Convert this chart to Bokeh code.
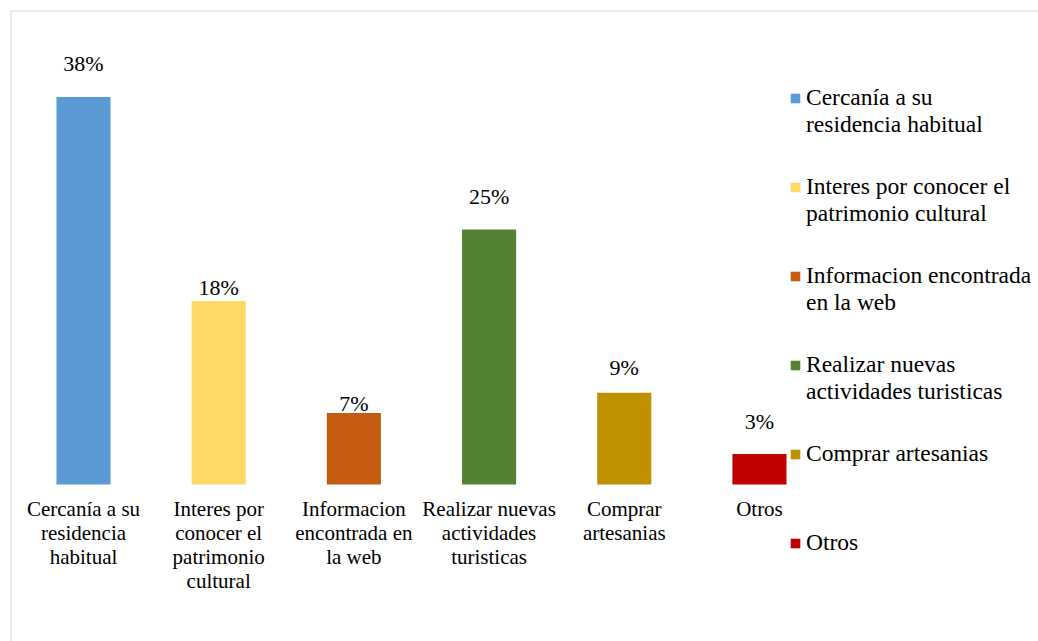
from bokeh.plotting import figure
from bokeh.models import ColumnDataSource, Range1d, Legend, LegendItem, Span
from bokeh.core.properties import value
from bokeh.embed import file_html
from bokeh.resources import INLINE

categories = [
    "Cercanía a su\nresidencia\nhabitual",
    "Interes por\nconocer el\npatrimonio\ncultural",
    "Informacion\nencontrada en\nla web",
    "Realizar nuevas\nactividades\nturisticas",
    "Comprar\nartesanias",
    "Otros",
]
legend_first = [
    "Cercanía a su",
    "Interes por conocer el",
    "Informacion encontrada",
    "Realizar nuevas",
    "Comprar artesanias",
    "Otros",
]
legend_second = [
    "residencia habitual",
    "patrimonio cultural",
    "en la web",
    "actividades turisticas",
]
values = [38, 18, 7, 25, 9, 3]
value_labels = ["38%", "18%", "7%", "25%", "9%", "3%"]
colors = ["#5B9BD5", "#FFD966", "#C55A11", "#548235", "#BF9000", "#C00000"]
# style: pixel gap between bar top and its value label (as placed in original)
label_gaps = [33, 13, 10, 33, 25, 32]

FAMILY = "Liberation Serif"
FONT = value(FAMILY)

xs = list(range(len(values)))
src = ColumnDataSource(dict(
    x=xs, top=values, color=colors, cat=categories, lab=value_labels,
    base=[0] * len(values), yoff=[-g for g in label_gaps],
))

xr = Range1d(-0.54, 7.064)
yr = Range1d(-15.39, 46.47)
p = figure(width=1038, height=641, output_backend="svg", toolbar_location=None,
           x_range=xr, y_range=yr,
           x_axis_location=None, y_axis_location=None,
           min_border_left=10, min_border_top=10, min_border_right=0, min_border_bottom=0)
p.xgrid.visible = False
p.ygrid.visible = False
p.outline_line_color = None
p.background_fill_color = "white"
p.border_fill_color = "white"
p.add_layout(Span(location=xr.start, dimension="height", line_color="#d9d9d9", line_width=2))
p.add_layout(Span(location=yr.end, dimension="width", line_color="#d9d9d9", line_width=2))

r = p.vbar(x="x", top="top", bottom=0, width=0.4, fill_color="color", line_color=None, source=src)

p.text(x="x", y="top", text="lab", y_offset="yoff", source=src,
       text_font=FONT, text_font_size="22px", text_align="center",
       text_baseline="alphabetic", text_color="black")

p.text(x="x", y="base", text="cat", y_offset=12, source=src,
       text_font=FONT, text_font_size="21px", text_align="center",
       text_baseline="top", text_color="black", text_line_height=1.01)

common = dict(orientation="vertical", label_height=27, spacing=62, padding=0, margin=0,
              border_line_color=None, background_fill_alpha=0,
              label_text_font=FAMILY, label_text_font_size="23.5px",
              label_text_color="black", label_text_baseline="middle")

items1 = [LegendItem(label=lbl, renderers=[r], index=i) for i, lbl in enumerate(legend_first)]
legend1 = Legend(items=items1, location=(779, 85), glyph_width=12, glyph_height=12,
                 label_standoff=5, **common)
p.add_layout(legend1)

items2 = [LegendItem(label=lbl, renderers=[r], index=i) for i, lbl in enumerate(legend_second)]
legend2 = Legend(items=items2, location=(796, 236), glyph_width=0, glyph_height=12,
                 label_standoff=0, **common)
p.add_layout(legend2)

open("out.html", "w").write(file_html(p, INLINE))
